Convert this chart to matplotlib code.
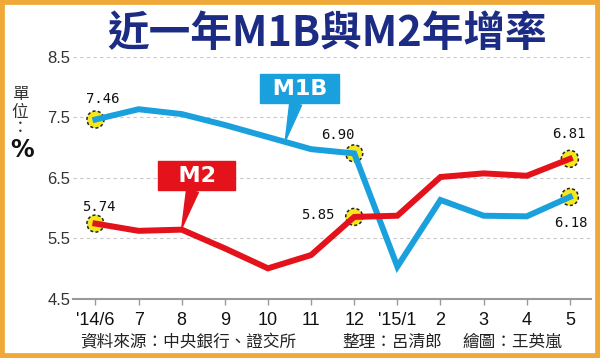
import numpy as np
import matplotlib
matplotlib.use("Agg")
import matplotlib.pyplot as plt
from matplotlib.patches import Rectangle

# ==========================================
# Données
# ==========================================
months = ["'14/6", "7", "8", "9", "10", "11", "12", "'15/1", "2", "3", "4", "5"]
m1b = [7.46, 7.63, 7.55, 7.37, 7.17, 6.97, 6.90, 5.03, 6.13, 5.87, 5.86, 6.18]
m2 = [5.74, 5.62, 5.64, 5.33, 5.00, 5.22, 5.85, 5.87, 6.51, 6.57, 6.53, 6.81]
highlight = [0, 6, 11]
yticks = [4.5, 5.5, 6.5, 7.5, 8.5]

title = "近一年M1B與M2年增率"
source = "資料來源：中央銀行、證交所"
editor = "整理：呂清郎"
drawer = "繪圖：王英嵐"

blue = "#1ba0de"
red = "#e3121b"
yellow = "#f4e81c"
navy = "#1c2b83"
cjk = ["Noto Sans CJK TC", "DejaVu Sans"]

fig = plt.figure(figsize=(6, 3.58), dpi=100)
fig.patch.set_facecolor("white")
ax = fig.add_axes([0.1217, 0.1659, 0.8633, 0.676])

x = np.arange(len(months))

# grille pointillée
for v in yticks[1:]:
    ax.axhline(v, color="#c8c8c8", lw=0.8, ls=(0, (3, 3)), zorder=1)

ax.plot(x, m1b, color=blue, lw=4.3, zorder=4, solid_joinstyle="miter")
ax.plot(x, m2, color=red, lw=4.3, zorder=5, solid_joinstyle="miter")

for series in (m1b, m2):
    ax.scatter([x[i] for i in highlight], [series[i] for i in highlight],
               s=150, facecolor=yellow, edgecolor="#222222", linewidths=1.1,
               linestyle=(0, (2, 1.5)), zorder=3, clip_on=False)

# étiquettes des valeurs
offsets_m1b = [(5, 15), (-11.5, 13.5), (0.7, -18.5)]
offsets_m2 = [(2.5, 12), (-26, 1.5), (-0.7, 18)]
for series, offs in ((m1b, offsets_m1b), (m2, offsets_m2)):
    for i, off in zip(highlight, offs):
        ax.annotate(f"{series[i]:.2f}", (x[i], series[i]), xytext=off,
                    textcoords="offset points", ha="center", va="center",
                    fontsize=10, family="DejaVu Sans Mono", color="#111111",
                    zorder=6)

# bulles M1B / M2
ax.annotate(" M1B ", xy=(4.4, 7.1), xytext=(4.74, 7.97), ha="center", va="center",
            fontsize=16, fontweight="bold", color="white", zorder=7,
            bbox=dict(boxstyle="square,pad=0.2", fc=blue, ec=blue),
            arrowprops=dict(arrowstyle="wedge,tail_width=0.55,shrink_factor=0.5",
                            fc=blue, ec=blue, shrinkA=0, shrinkB=0))
ax.annotate("  M2  ", xy=(2.0, 5.66), xytext=(2.35, 6.53), ha="center", va="center",
            fontsize=16, fontweight="bold", color="white", zorder=7,
            bbox=dict(boxstyle="square,pad=0.2", fc=red, ec=red),
            arrowprops=dict(arrowstyle="wedge,tail_width=0.55,shrink_factor=0.5",
                            fc=red, ec=red, shrinkA=0, shrinkB=0))

ax.set_xlim(-0.52, 11.49)
ax.set_ylim(4.5, 8.5)
ax.set_xticks(x)
ax.set_xticklabels(months, fontsize=13, family="Liberation Sans", color="#111111")
ax.set_yticks(yticks)
ax.set_yticklabels([f"{v:.1f}" for v in yticks], fontsize=12,
                   family="Liberation Sans", color="#333333")
ax.tick_params(axis="x", length=4.5, width=1, color="#999999", pad=5)
ax.tick_params(axis="y", length=0, pad=2)
for s in ("top", "right", "left"):
    ax.spines[s].set_visible(False)
ax.spines["bottom"].set_color("#999999")
ax.spines["bottom"].set_linewidth(1.5)
ax.set_facecolor("none")

# titre
fig.text(0.545, 0.905, title, ha="center", va="center", fontsize=30,
         fontweight="bold", color=navy, family=cjk)

# unité
for k, ch in enumerate("單位："):
    fig.text(20 / 600, 1 - (95 + 17 * k) / 358, ch, ha="center", va="center",
             fontsize=12, family=cjk, color="#333333")
fig.text(22 / 600, 1 - 150 / 358, "%", ha="center", va="center", fontsize=17,
         fontweight="bold", family="DejaVu Sans", color="#111111")

# sources
for txt, px in ((source, 80), (editor, 342), (drawer, 462)):
    fig.text(px / 600, 1 - 342 / 358, txt, ha="left", va="center", fontsize=12,
             family=cjk, color="#222222")

# cadre orange
fig.patches.append(Rectangle((0, 0), 1, 1, transform=fig.transFigure,
                             fill=False, ec="#f0a838", lw=7))

fig.savefig("out.png", dpi=100)
